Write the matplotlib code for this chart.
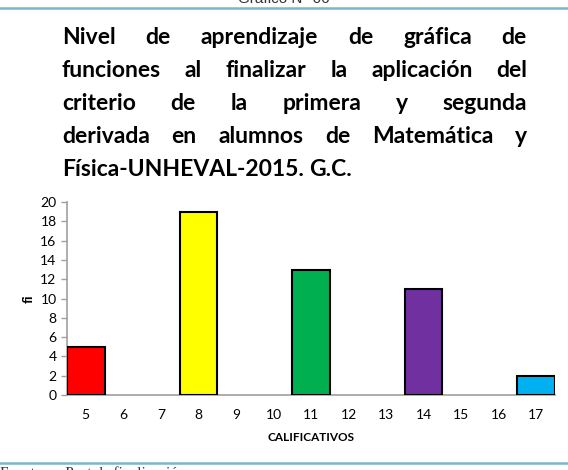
import numpy as np
import matplotlib.pyplot as plt
from matplotlib.lines import Line2D

# datos
calificativos = [5, 6, 7, 8, 9, 10, 11, 12, 13, 14, 15, 16, 17]
fi = [5, 0, 0, 19, 0, 0, 13, 0, 0, 11, 0, 0, 2]
colores = ['#ff0000', 'none', 'none', '#ffff00', 'none', 'none', '#00b050',
           'none', 'none', '#7030a0', 'none', 'none', '#00b0f0']
y_ticks = list(range(0, 21, 2))

titulo = ["Nivel de aprendizaje de gráfica de",
          "funciones al finalizar la aplicación del",
          "criterio de la primera y segunda",
          "derivada en alumnos de Matemática y",
          "Física-UNHEVAL-2015. G.C."]

W, H = 568, 470
fig = plt.figure(figsize=(W / 100, H / 100), dpi=100)
plt.rcParams['font.family'] = ['Lato', 'DejaVu Sans']

# lineas del documento
fig.add_artist(Line2D([0, 1], [1 - 8 / H, 1 - 8 / H], color='#7ab6cc', lw=1.8))
fig.add_artist(Line2D([0, 1], [1 - 463 / H, 1 - 463 / H], color='#7ab6cc', lw=1.8))
fig.text(0.5, 1 - 3 / H, "Gráfico N° 06", ha='center', va='baseline',
         fontsize=11, color='#333333', family='Liberation Sans')
fig.text(0.0, 1 - 467 / H, "Fuente:     Post de finalización", ha='left', va='top',
         fontsize=11, color='#333333', family='Liberation Serif')

# titulo justificado
renderer = fig.canvas.get_renderer()
x0, x1 = 62, 527
bases = [44, 77, 110, 143, 176]
fs_tit = 16.5
for i, linea in enumerate(titulo):
    palabras = linea.split()
    textos = [fig.text(0, 0, p, fontsize=fs_tit, fontweight='bold', color='black')
              for p in palabras]
    anchos = [t.get_window_extent(renderer).width for t in textos]
    if i < len(titulo) - 1 and len(palabras) > 1:
        gap = (x1 - x0 - sum(anchos)) / (len(palabras) - 1)
    else:
        gap = renderer.points_to_pixels(fs_tit) * 0.25
    x = x0
    for t, w in zip(textos, anchos):
        t.set_position((x / W, 1 - bases[i] / H))
        t.set_va('baseline')
        x += w + gap

# grafico
ax = fig.add_axes([67 / W, 1 - 395 / H, (555 - 67) / W, (395 - 202) / H])
x = np.arange(len(calificativos))
for xi, v, c in zip(x, fi, colores):
    if v > 0:
        ax.bar(xi, v, width=1.0, color=c, edgecolor='black', linewidth=1.5, zorder=3)

ax.set_xlim(-0.5, len(calificativos) - 0.5)
ax.set_ylim(0, 20)
ax.set_xticks(x)
ax.set_xticklabels([str(c) for c in calificativos])
ax.set_yticks(y_ticks)
ax.tick_params(axis='x', length=0, pad=10, labelsize=10)
ax.tick_params(axis='y', length=4, color='#a0a0a0', width=1, labelsize=10)
for s in ['top', 'right']:
    ax.spines[s].set_visible(False)
for s in ['left', 'bottom']:
    ax.spines[s].set_color('#a0a0a0')
    ax.spines[s].set_linewidth(1.2)

ax.set_ylabel('fi', fontsize=10, fontweight='bold', labelpad=4)
ax.set_xlabel('CALIFICATIVOS', fontsize=8.5, fontweight='bold', labelpad=8)

fig.savefig('out.png', dpi=100)
